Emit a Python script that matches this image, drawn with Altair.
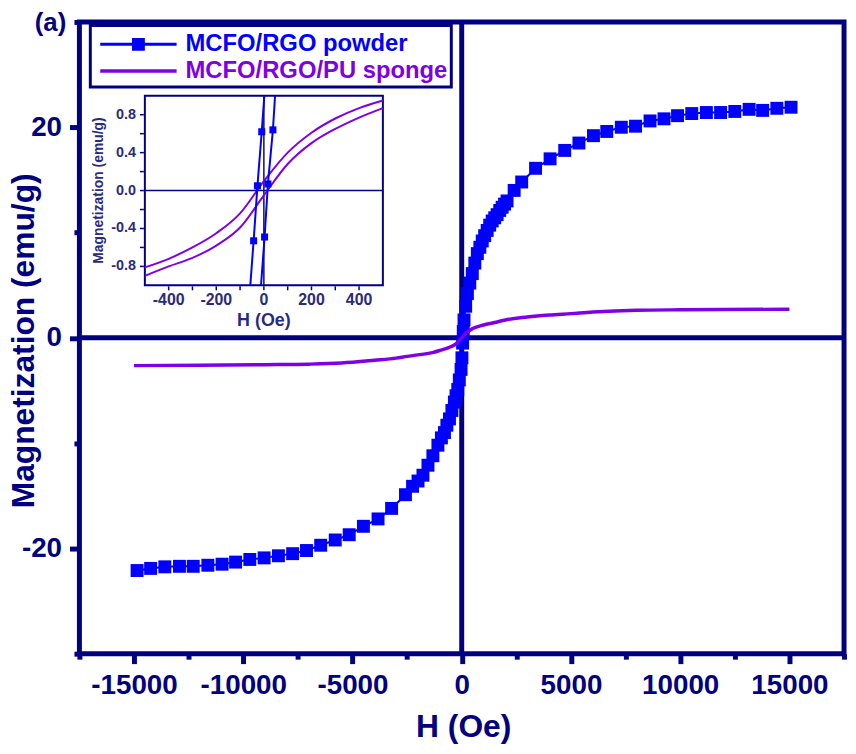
import altair as alt
import pandas as pd

NAVY = "#000080"
BLUE = "#0000FF"
VIOLET = "#7F00E6"
INSET_TXT = "#2a2a80"
FONT = "Liberation Sans"
MINUS = "\u2212"

# ---------------- data ----------------
series_names = ["MCFO/RGO powder", "MCFO/RGO/PU sponge"]
panel_label = "(a)"

powder_H = [-14860, -14240, -13590, -12920, -12290, -11620, -10970, -10350, -9700, -9045,
            -8390, -7740, -7105, -6455, -5790, -5150, -4500, -3830, -3210, -2575,
            -2250, -2000, -1775, -1545, -1320, -1090, -930, -790, -680, -560,
            -450, -335, -260, -180, -110, -30, 10, 40, 70, 105,
            180, 260, 370, 485, 600, 715, 830, 940, 1050, 1165,
            1280, 1395, 1510, 1620, 1740, 1850, 1960, 2075, 2400, 2745,
            3380, 4045, 4715, 5365, 6030, 6640, 7305, 7955, 8620, 9260,
            9880, 10530, 11200, 11850, 12500, 13155, 13775, 14425, 15075]
powder_M = [-22.1, -21.9, -21.75, -21.7, -21.7, -21.6, -21.5, -21.3, -21.05, -20.9,
            -20.7, -20.5, -20.2, -19.7, -19.2, -18.7, -17.9, -17.2, -16.2, -14.9,
            -14.1, -13.6, -13.05, -12.1, -11.2, -10.2, -9.5, -9.0, -8.3, -7.7,
            -6.9, -6.1, -5.5, -4.9, -4.0, -3.0, -1.9, -0.5, 0.6, 1.7,
            3.0, 4.2, 5.2, 6.1, 7.1, 8.0, 8.6, 9.2, 9.7, 10.2,
            10.7, 11.1, 11.4, 11.7, 12.1, 12.4, 12.7, 13.0, 14.0, 14.8,
            16.1, 17.0, 17.8, 18.5, 19.2, 19.6, 20.0, 20.1, 20.6, 20.8,
            21.1, 21.3, 21.4, 21.4, 21.5, 21.7, 21.6, 21.8, 21.9]

sponge_H = [-15000, -12000, -9000, -7000, -5500, -4000, -3000, -2500, -2000, -1300,
            -1000, -500, -250, 0, 250, 500, 1000, 1500, 2000, 3000,
            4000, 5000, 6000, 8000, 10000, 12000, 15000]
sponge_M = [-2.64, -2.60, -2.55, -2.50, -2.39, -2.13, -1.93, -1.76, -1.62, -1.38,
            -1.20, -0.85, -0.55, 0.0, 0.55, 0.88, 1.22, 1.45, 1.70, 1.97,
            2.16, 2.30, 2.45, 2.62, 2.66, 2.68, 2.72]

# inset (low-field loop)
inset_sponge_H = [-500, -400, -300, -200, -100, 0, 100, 200, 300, 400, 500]
inset_sponge_upper = [-0.81, -0.72, -0.60, -0.45, -0.24, 0.10, 0.40, 0.61, 0.76, 0.87, 0.95]
inset_sponge_lower = [-0.90, -0.80, -0.71, -0.58, -0.39, -0.05, 0.28, 0.50, 0.65, 0.77, 0.87]

inset_powderA_H = [-57, -43, -27, -9, 2]
inset_powderA_M = [-1.0, -0.53, 0.05, 0.62, 1.0]
inset_powderB_H = [-12, 3, 17, 38, 47]
inset_powderB_M = [-1.0, -0.49, 0.07, 0.64, 1.0]
inset_markA_H = [-43, -27, -9]
inset_markA_M = [-0.53, 0.05, 0.62]
inset_markB_H = [3, 17, 38]
inset_markB_M = [-0.49, 0.07, 0.64]

x_domain = [-17500, 17500]
y_domain = [-30, 30]
x_ticks = [-15000, -10000, -5000, 0, 5000, 10000, 15000]
x_minor = [-17500, -12500, -7500, -2500, 2500, 7500, 12500, 17500]
y_ticks = [-20, 0, 20]
y_minor = [-30, -10, 10, 30]

inset_x_tick_values = [-400, -300, -200, -100, 0, 100, 200, 300, 400]
inset_x_label_values = [-400, -200, 0, 200, 400]
inset_x_label_texts = ["-400", "-200", "0", "200", "400"]
inset_y_tick_values = [-0.8, -0.6, -0.4, -0.2, 0.0, 0.2, 0.4, 0.6, 0.8]
inset_y_label_values = [-0.8, -0.4, 0.0, 0.4, 0.8]
inset_y_label_texts = ["-0.8", "-0.4", "0.0", "0.4", "0.8"]
inset_x_domain = [-500, 500]
inset_y_domain = [-1, 1]

# ---------------- frames ----------------
powder_df = pd.DataFrame({"H": powder_H, "M": powder_M})
sponge_df = pd.DataFrame({"H": sponge_H, "M": sponge_M})
legend_df = pd.DataFrame({"series": series_names,
                          "H": [powder_H[0], sponge_H[0]],
                          "M": [powder_M[0], sponge_M[0]]})
zero_df = pd.DataFrame({"v": [0]})
panel_df = pd.DataFrame({"x": [x_domain[0]], "y": [y_domain[1]], "t": [panel_label]})

isp = pd.DataFrame({
    "H": inset_sponge_H + inset_sponge_H,
    "M": inset_sponge_upper + inset_sponge_lower,
    "branch": ["up"] * len(inset_sponge_H) + ["low"] * len(inset_sponge_H),
})
ipw = pd.DataFrame({
    "H": inset_powderA_H + inset_powderB_H,
    "M": inset_powderA_M + inset_powderB_M,
    "branch": ["A"] * len(inset_powderA_H) + ["B"] * len(inset_powderB_H),
})
ipm = pd.DataFrame({"H": inset_markA_H + inset_markB_H, "M": inset_markA_M + inset_markB_M})

XS = alt.Scale(domain=x_domain, nice=False, zero=False)
YS = alt.Scale(domain=y_domain, nice=False, zero=False)

minus_fix = f"replace(datum.label, '{MINUS}', '-')"

x_major_axis = alt.Axis(
    orient="bottom", values=x_ticks, format="d", labelExpr=minus_fix,
    domain=False, grid=False, tickSize=10, tickWidth=5, tickColor=NAVY,
    labelFont=FONT, labelFontSize=28, labelFontWeight="bold", labelColor=NAVY,
    labelPadding=8, labelOverlap=False, labelFlush=False,
    title="H (Oe)", titleFont=FONT, titleFontSize=32, titleFontWeight="bold",
    titleColor=NAVY, titleX=387, titleY=83, titleBaseline="alphabetic", titleAlign="center",
)
y_major_axis = alt.Axis(
    orient="left", values=y_ticks, format="d", labelExpr=minus_fix,
    domain=False, grid=False, tickSize=10, tickWidth=5, tickColor=NAVY,
    labelFont=FONT, labelFontSize=28, labelFontWeight="bold", labelColor=NAVY,
    labelPadding=8, labelOverlap=False, labelFlush=False, labelBaseline="middle",
    title="Magnetization (emu/g)", titleFont=FONT, titleFontSize=32, titleFontWeight="bold",
    titleColor=NAVY, titleX=-39, titleY=321, titleAngle=270, titleBaseline="bottom",
    titleAlign="center",
)

vline = alt.Chart(zero_df).mark_rule(color=NAVY, strokeWidth=5).encode(
    x=alt.X("v:Q", scale=XS, axis=alt.Axis(
        orient="bottom", values=x_minor, labels=False, title=None, domain=False,
        grid=False, tickSize=5.5, tickWidth=5, tickColor=NAVY)))
hline = alt.Chart(zero_df).mark_rule(color=NAVY, strokeWidth=5).encode(
    y=alt.Y("v:Q", scale=YS, axis=alt.Axis(
        orient="left", values=y_minor, labels=False, title=None, domain=False,
        grid=False, tickSize=5.5, tickWidth=5, tickColor=NAVY)))

powder_line = alt.Chart(powder_df).mark_line(color=BLUE, strokeWidth=2).encode(
    x=alt.X("H:Q", scale=XS, axis=None), y=alt.Y("M:Q", scale=YS, axis=None))
powder_pts = alt.Chart(powder_df).mark_square(color=BLUE, size=170, opacity=1).encode(
    x=alt.X("H:Q", scale=XS, axis=None), y=alt.Y("M:Q", scale=YS, axis=None))
sponge_line = alt.Chart(sponge_df).mark_line(
    color=VIOLET, strokeWidth=3.5, interpolate="monotone").encode(
    x=alt.X("H:Q", scale=XS, axis=x_major_axis), y=alt.Y("M:Q", scale=YS, axis=y_major_axis))

panel_text = alt.Chart(panel_df).mark_text(
    font=FONT, fontSize=26, fontWeight="bold", color=NAVY, align="left",
    baseline="alphabetic", xOffset=-45, yOffset=9).encode(
    x=alt.X("x:Q", scale=XS, axis=None), y=alt.Y("y:Q", scale=YS, axis=None), text="t:N")

# legend symbols: long line + square, and long line (custom paths, unit = 15 px)
path_powder = ("M-4.133,-0.1H1V0.1H-4.133Z "
               "M-2.0,-0.43H-1.134V0.43H-2.0Z")
path_sponge = "M-4.133,-0.12H1V0.12H-4.133Z"

legend_common = dict(title=None, orient="none", legendX=11, legendY=3.5)
legend_layer = alt.Chart(legend_df).mark_point(
    filled=True, size=0, opacity=1, strokeWidth=0).encode(
    x=alt.X("H:Q", scale=XS, axis=None),
    y=alt.Y("M:Q", scale=YS, axis=None),
    color=alt.Color("series:N", scale=alt.Scale(domain=series_names, range=[BLUE, VIOLET]),
                    legend=alt.Legend(
                        labelColor={"expr": f"datum.value == '{series_names[0]}' ? '{BLUE}' : '{VIOLET}'"},
                        **legend_common)),
    shape=alt.Shape("series:N", scale=alt.Scale(domain=series_names, range=[path_powder, path_sponge]),
                    legend=alt.Legend(**legend_common)),
)

main = alt.layer(vline, hline, powder_line, powder_pts, sponge_line, panel_text,
                 legend_layer).resolve_axis(x="independent", y="independent")

# ---------------- inset (its own scales, drawn inside the main frame) ----------------
IXS = alt.Scale(domain=inset_x_domain, range=[66, 306], nice=False, zero=False)
IYS = alt.Scale(domain=inset_y_domain, range=[265.6, 74.4], nice=False, zero=False)

def ix(field):
    return alt.X(field, scale=IXS, axis=None)

def iy(field):
    return alt.Y(field, scale=IYS, axis=None)

box_df = pd.DataFrame({"x": [inset_x_domain[0]], "x2": [inset_x_domain[1]],
                       "y": [inset_y_domain[0]], "y2": [inset_y_domain[1]]})
inset_box = alt.Chart(box_df).mark_rect(fill="white", stroke=NAVY, strokeWidth=2).encode(
    x=ix("x:Q"), x2="x2:Q", y=iy("y:Q"), y2="y2:Q")
hz_df = pd.DataFrame({"x": [inset_x_domain[0]], "x2": [inset_x_domain[1]], "y": [0]})
inset_hz = alt.Chart(hz_df).mark_rule(color=NAVY, strokeWidth=1.5).encode(
    x=ix("x:Q"), x2="x2:Q", y=iy("y:Q"))
vz_df = pd.DataFrame({"x": [0], "y": [inset_y_domain[0]], "y2": [inset_y_domain[1]]})
inset_vz = alt.Chart(vz_df).mark_rule(color="#10104a", strokeWidth=1.5).encode(
    x=ix("x:Q"), y=iy("y:Q"), y2="y2:Q")

# inset axes: ticks and labels drawn from the tick arrays through the inset scales
xt_df = pd.DataFrame({"v": inset_x_tick_values, "b": inset_y_domain[0]})
yt_df = pd.DataFrame({"v": inset_y_tick_values, "b": inset_x_domain[0]})
xl_df = pd.DataFrame({"v": inset_x_label_values, "t": inset_x_label_texts, "b": inset_y_domain[0]})
yl_df = pd.DataFrame({"v": inset_y_label_values, "t": inset_y_label_texts, "b": inset_x_domain[0]})

inset_xticks = alt.Chart(xt_df).mark_tick(
    orient="vertical", size=4, thickness=1.5, color=NAVY, yOffset=3, opacity=1).encode(
    x=ix("v:Q"), y=iy("b:Q"))
inset_yticks = alt.Chart(yt_df).mark_tick(
    orient="horizontal", size=4, thickness=1.5, color=NAVY, xOffset=-3, opacity=1).encode(
    x=ix("b:Q"), y=iy("v:Q"))
inset_xlabels = alt.Chart(xl_df).mark_text(
    font=FONT, fontSize=16, fontWeight="bold", color=INSET_TXT, baseline="top",
    align="center", yOffset=7).encode(x=ix("v:Q"), y=iy("b:Q"), text="t:N")
inset_ylabels = alt.Chart(yl_df).mark_text(
    font=FONT, fontSize=14.5, fontWeight="bold", color=INSET_TXT, baseline="middle",
    align="right", xOffset=-9).encode(x=ix("b:Q"), y=iy("v:Q"), text="t:N")

xtitle_df = pd.DataFrame({"x": [0], "y": [inset_y_domain[0]], "t": ["H (Oe)"]})
ytitle_df = pd.DataFrame({"x": [inset_x_domain[0]], "y": [0], "t": ["Magnetization (emu/g)"]})
inset_xtitle = alt.Chart(xtitle_df).mark_text(
    font=FONT, fontSize=18, fontWeight="bold", color=INSET_TXT, baseline="alphabetic",
    align="center", yOffset=41).encode(x=ix("x:Q"), y=iy("y:Q"), text="t:N")
inset_ytitle = alt.Chart(ytitle_df).mark_text(
    font=FONT, fontSize=14, fontWeight="bold", color=INSET_TXT, baseline="bottom",
    align="center", angle=270, xOffset=-39).encode(x=ix("x:Q"), y=iy("y:Q"), text="t:N")

inset_sponge = alt.Chart(isp).mark_line(color=VIOLET, strokeWidth=2, interpolate="monotone").encode(
    x=ix("H:Q"), y=iy("M:Q"), detail="branch:N")
inset_powder = alt.Chart(ipw).mark_line(color=BLUE, strokeWidth=2).encode(
    x=ix("H:Q"), y=iy("M:Q"), detail="branch:N")
inset_marks = alt.Chart(ipm).mark_square(color=BLUE, size=50, opacity=1).encode(
    x=ix("H:Q"), y=iy("M:Q"))

inset = alt.layer(inset_box, inset_hz, inset_vz, inset_xticks, inset_yticks,
                  inset_xlabels, inset_ylabels, inset_xtitle, inset_ytitle,
                  inset_sponge, inset_powder, inset_marks)

chart = alt.layer(main, inset).resolve_scale(x="independent", y="independent").properties(
    width=771, height=637,
    padding={"left": 72, "top": 11, "right": 4, "bottom": 90},
    autosize=alt.AutoSizeParams(type="none"),
).configure_view(stroke=NAVY, strokeWidth=5).configure_legend(
    padding=4, strokeColor=NAVY, strokeWidth=3, fillColor="white",
    symbolSize=900, symbolOffset=53, labelOffset=9, symbolStrokeWidth=0,
    labelFont=FONT, labelFontSize=24, labelFontWeight="bold", labelLimit=400, rowPadding=0,
    symbolOpacity=1,
)

chart.save("out.html", embed_options={"renderer": "svg", "actions": False})
